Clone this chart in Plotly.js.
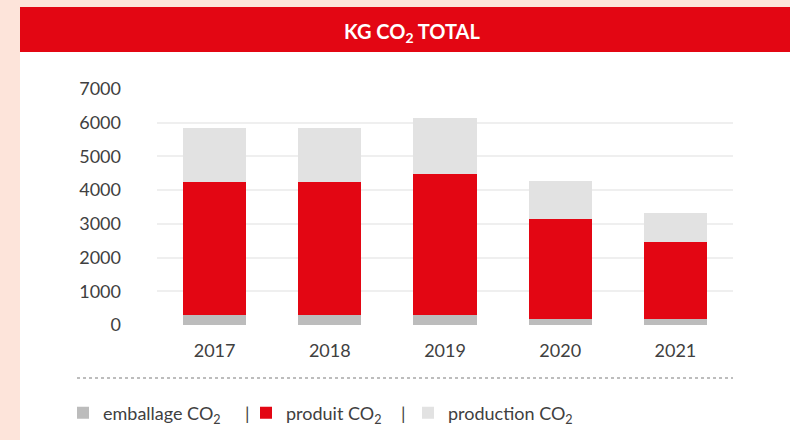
<!DOCTYPE html>
<html>
<head>
<meta charset="utf-8">
<script src="https://cdn.plot.ly/plotly-3.0.1.min.js"></script>
<style>
  html, body { margin: 0; padding: 0; background: #fde4da; }
  #chart { width: 790px; height: 440px; }
</style>
</head>
<body>
<div id="chart"></div>
<script>
var years = ['2017', '2018', '2019', '2020', '2021'];
var emballage = [295, 295, 290, 170, 170];
var produit = [3950, 3950, 4190, 2980, 2290];
var production = [1605, 1600, 1670, 1130, 860];
var yTicks = [0, 1000, 2000, 3000, 4000, 5000, 6000, 7000];

// plot area in pixels, used to place the decoration shapes
var L = 157, R = 733, T = 89, B = 325;
function px(x) { return (x - L) / (R - L); }
function py(y) { return (B - y) / (B - T); }

window.onload = function () {
    var fontFam = 'Lato, "Open Sans", sans-serif';
    var traces = [
        {
            x: years, y: emballage, type: 'bar', name: 'emballage CO<sub>2</sub>',
            marker: { color: '#bcbcbc' }, width: 0.55, legend: 'legend'
        },
        {
            x: years, y: produit, type: 'bar', name: 'produit CO<sub>2</sub>',
            marker: { color: '#e30613' }, width: 0.55, legend: 'legend2'
        },
        {
            x: years, y: production, type: 'bar', name: 'production CO<sub>2</sub>',
            marker: { color: '#e2e2e2' }, width: 0.55, legend: 'legend3'
        }
    ];
    function leg(xpix) {
        return {
            orientation: 'h',
            x: px(xpix), xanchor: 'left',
            y: py(413), yanchor: 'middle',
            bgcolor: 'rgba(0,0,0,0)',
            font: { size: 18, color: '#404040' }
        };
    }
    var layout = {
        width: 790,
        height: 440,
        barmode: 'stack',
        paper_bgcolor: '#fde4da',
        plot_bgcolor: 'rgba(0,0,0,0)',
        margin: { l: L, r: 790 - R, t: T, b: 440 - B, autoexpand: false },
        font: { family: fontFam, color: '#404040', size: 18 },
        showlegend: true,
        hovermode: false,
        xaxis: {
            type: 'category',
            showgrid: false,
            zeroline: false,
            showline: false,
            ticks: '',
            ticklabelstandoff: 13,
            tickfont: { size: 18, color: '#404040' }
        },
        yaxis: {
            range: [0, 7000],
            tickvals: yTicks,
            showgrid: true,
            gridcolor: '#efefef',
            gridwidth: 2,
            zeroline: false,
            showline: false,
            ticks: '',
            ticklabelstandoff: 35,
            tickfont: { size: 18, color: '#404040' }
        },
        legend: leg(63),
        legend2: leg(246),
        legend3: leg(408),
        shapes: [
            {   // white card
                type: 'rect', xref: 'paper', yref: 'paper', layer: 'below',
                x0: px(20), x1: px(800), y0: py(52), y1: py(450),
                fillcolor: '#ffffff', line: { width: 0 }
            },
            {   // red header band
                type: 'rect', xref: 'paper', yref: 'paper', layer: 'below',
                x0: px(20), x1: px(800), y0: py(7), y1: py(52),
                fillcolor: '#e30613', line: { width: 0 }
            },
            {   // dotted separator
                type: 'line', xref: 'paper', yref: 'paper',
                x0: px(77), x1: px(733), y0: py(378), y1: py(378),
                line: { color: '#bdbdbd', width: 2, dash: 'dot' }
            }
        ],
        annotations: [
            {
                xref: 'paper', yref: 'paper', x: px(412), y: py(33), yanchor: 'middle',
                text: '<b>KG CO<sub>2</sub> TOTAL</b>', showarrow: false,
                font: { family: fontFam, size: 20, color: '#ffffff' }
            },
            {
                xref: 'paper', yref: 'paper', x: px(243), y: py(413), yanchor: 'middle',
                text: '|', showarrow: false,
                font: { family: fontFam, size: 18, color: '#404040' }
            },
            {
                xref: 'paper', yref: 'paper', x: px(403), y: py(413), yanchor: 'middle',
                text: '|', showarrow: false,
                font: { family: fontFam, size: 18, color: '#404040' }
            }
        ]
    };
    Plotly.newPlot('chart', traces, layout, { displayModeBar: false, staticPlot: true });
};
</script>
</body>
</html>
